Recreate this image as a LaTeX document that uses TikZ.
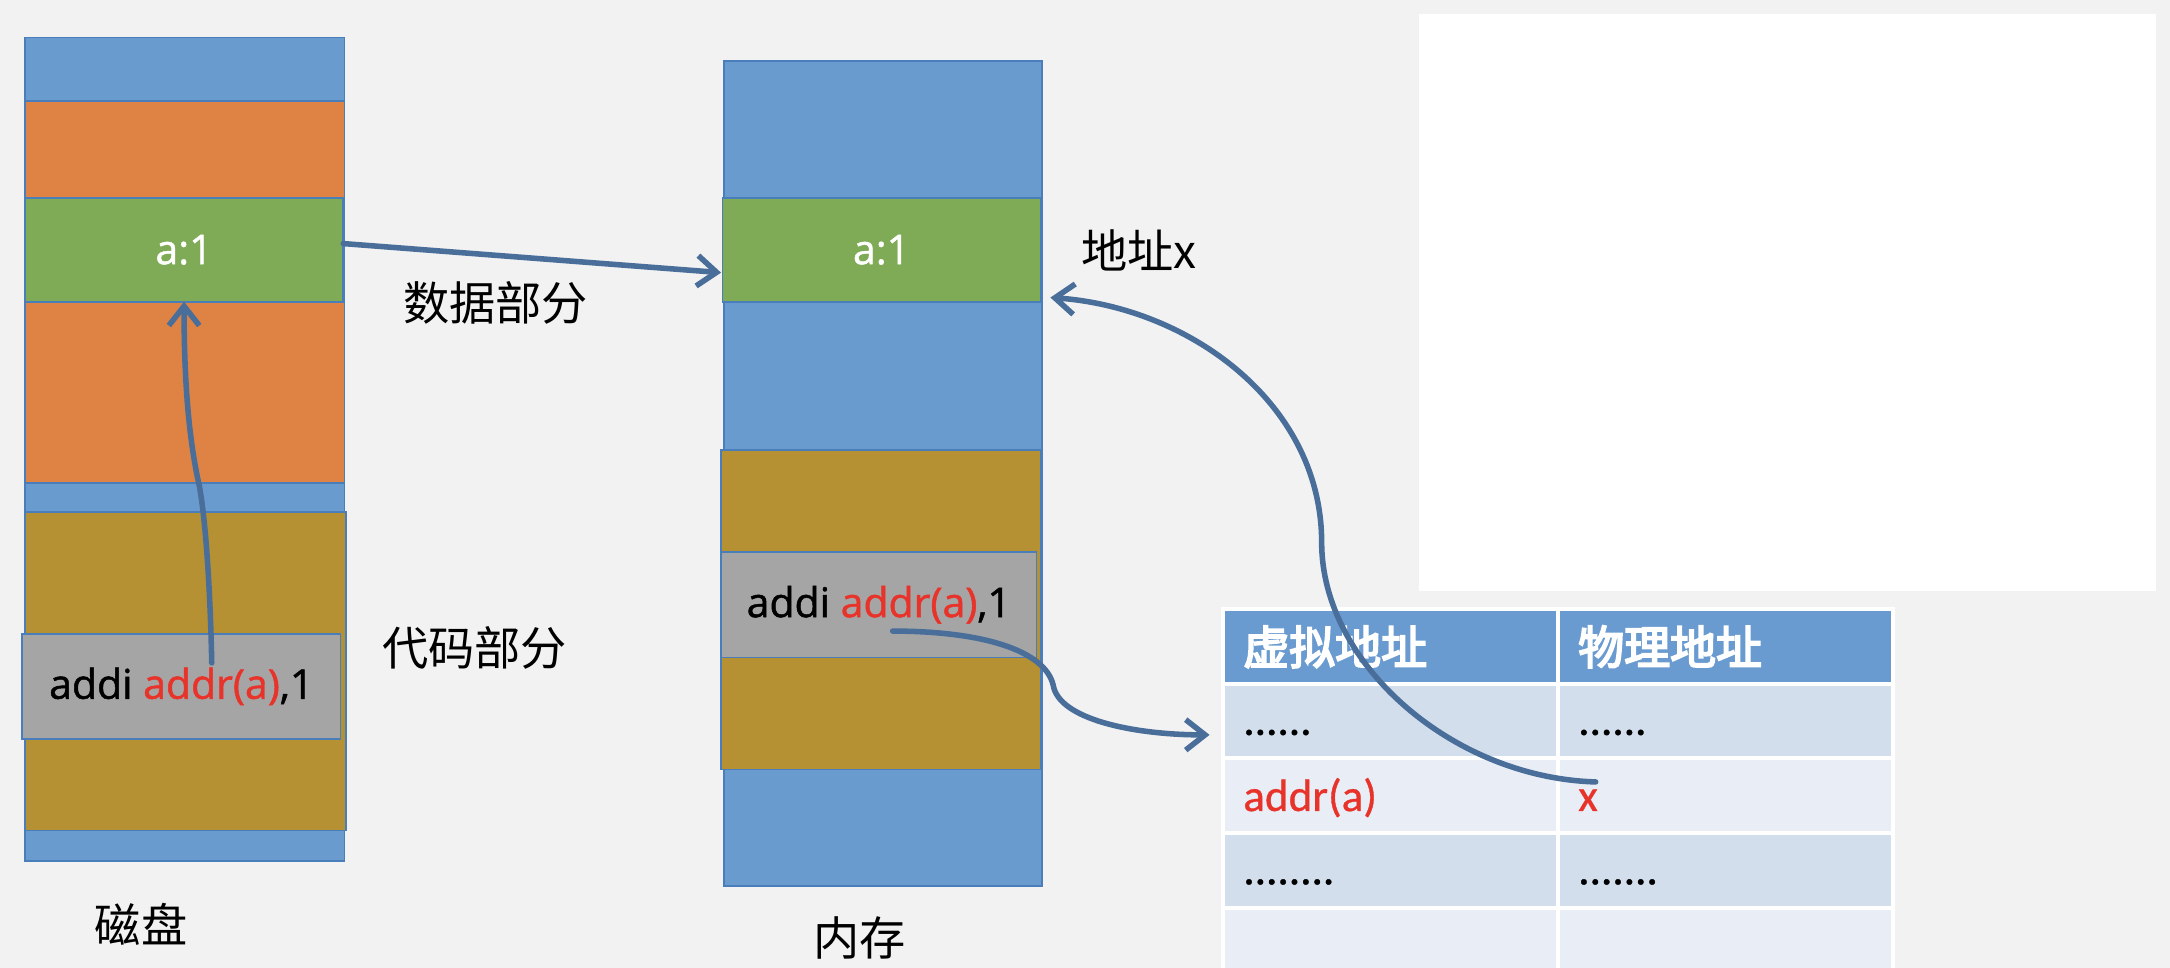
\documentclass[tikz,border=0pt]{standalone}
\usepackage{fontspec}
\setmainfont{Open Sans}
\newfontfamily\boxfont[FakeBold=1.2]{Open Sans}
\newfontfamily\cjk{Noto Sans CJK SC}
\newfontfamily\cjkbold[FakeBold=4]{Noto Sans CJK SC}
\newfontfamily\tabfont[FakeBold=0.8]{Carlito}
\usetikzlibrary{arrows.meta,calc}
\definecolor{bgc}{HTML}{F2F2F2}
\definecolor{cblue}{HTML}{6A9BCF}
\definecolor{cborder}{HTML}{4A7EBB}
\definecolor{corange}{HTML}{DF8344}
\definecolor{cgreen}{HTML}{7FAB56}
\definecolor{colive}{HTML}{B59133}
\definecolor{cgray}{HTML}{A5A5A5}
\definecolor{carrow}{HTML}{4A6E9A}
\definecolor{cred}{HTML}{E8332A}
\definecolor{thead}{HTML}{6A9BD0}
\definecolor{trowa}{HTML}{D3DEEC}
\definecolor{trowb}{HTML}{E9EEF6}
\tikzset{
  blk/.style={draw=cborder, line width=0.6pt, inner sep=0pt, outer sep=0pt},
  boxtxt/.style={font=\boxfont\fontsize{14.8}{16}\selectfont},
  lab/.style={font=\cjk\fontsize{16.7}{18}\selectfont, inner sep=0pt},
  cell/.style={draw=white, line width=1.5pt, minimum width=121pt, minimum height=27pt, inner sep=0pt, outer sep=0pt},
  ctext/.style={anchor=base west, inner sep=0pt, font=\tabfont\fontsize{16.3}{18}\selectfont},
  htext/.style={anchor=base west, inner sep=0pt, text=white, font=\cjkbold\fontsize{16.6}{18}\selectfont},
  arr/.style={draw=carrow, line width=2pt, line cap=round, -{Straight Barb[length=7pt,width=11pt,line width=2pt]}}
}
\begin{document}
\begin{tikzpicture}[x=0.5pt,y=-0.5pt]
\useasboundingbox (0,0) rectangle (1568,699.45);
\fill[bgc] (0,0) rectangle (1568,699.45);

% white blank area
\node[fill=white, minimum width=266.5pt, minimum height=208.5pt, inner sep=0pt] (blank) at (1291.5,218.5) {};

% disk column
\node[blk, fill=cblue, minimum width=115.5pt, minimum height=297.5pt] (disk) at (133.5,324.5) {};
\node[blk, fill=corange, minimum width=115.5pt, minimum height=138pt] (dorange) at (133.5,211) {};
\node[blk, fill=cgreen, minimum width=115pt, minimum height=37.5pt, text=white, boxtxt] (dgreen) at (133,180.5) {a:1};
\node[blk, fill=colive, minimum width=116pt, minimum height=115pt] (dolive) at (134,485) {};
\node[blk, fill=cgray, minimum width=115pt, minimum height=38pt, boxtxt] (dgray) at (131,496) {addi \textcolor{cred}{addr(a)},1};

% memory column
\node[blk, fill=cblue, minimum width=115pt, minimum height=298pt] (mem) at (638,342) {};
\node[blk, fill=cgreen, minimum width=115pt, minimum height=37.5pt, text=white, boxtxt] (mgreen) at (637,180.5) {a:1};
\node[blk, fill=colive, minimum width=115.5pt, minimum height=115.5pt] (molive) at (636.5,440.5) {};
\node[blk, fill=cgray, minimum width=114pt, minimum height=38pt, boxtxt] (mgray) at (635,437) {addi \textcolor{cred}{addr(a)},1};

% labels
\node[lab] (ldata) at (358,219) {数据部分};
\node[lab] (lcode) at (343,468) {代码部分};
\node[lab] (lx) at (823,181) {地址x};
\node[lab] (ldisk) at (102,668) {磁盘};
\node[lab] (lmem) at (621,678) {内存};

% table
\node[cell, fill=thead] (h1) at (1005,467) {};
\node[cell, fill=thead] (h2) at (1247,467) {};
\node[cell, fill=trowa] (c11) at (1005,521) {};
\node[cell, fill=trowa] (c12) at (1247,521) {};
\node[cell, fill=trowb] (c21) at (1005,575) {};
\node[cell, fill=trowb] (c22) at (1247,575) {};
\node[cell, fill=trowa] (c31) at (1005,629) {};
\node[cell, fill=trowa] (c32) at (1247,629) {};
\node[cell, fill=trowb] (c41) at (1005,683) {};
\node[cell, fill=trowb] (c42) at (1247,683) {};

\node[htext] (th1) at (898,480) {虚拟地址};
\node[htext] (th2) at (1140,480) {物理地址};
\node[ctext] (t11) at (898,531) {......};
\node[ctext] (t12) at (1140,531) {......};
\node[ctext, text=cred] (t21) at (898,586) {addr(a)};
\node[ctext, text=cred] (t22) at (1140,586) {x};
\node[ctext] (t31) at (898,639) {........};
\node[ctext] (t32) at (1140,639) {.......};

% connectors
\coordinate (a1s) at (248,176);
\coordinate (a1e) at (521,197);
\draw[arr] (a1s) -- (a1e);

\coordinate (a2s) at (153,479);
\coordinate (a2k) at (144,351);
\draw[arr] (a2s) .. controls (152,430) and (149,378) .. (a2k) .. controls (137,320) and (133,280) .. (dgreen.south);

\coordinate (a3s) at (645,456);
\coordinate (a3k) at (761,495);
\coordinate (a3e) at (874,531);
\draw[arr] (a3s) .. controls (710,456) and (755,470) .. (a3k) .. controls (765,520) and (820,531) .. (a3e);

\coordinate (a4s) at (1153,565);
\coordinate (a4m) at (955,392);
\coordinate (a4e) at (759,215);
\draw[arr] (a4s) .. controls (1050,562) and (955,480) .. (a4m) .. controls (955,292) and (860,222) .. (a4e);
\end{tikzpicture}
\end{document}
